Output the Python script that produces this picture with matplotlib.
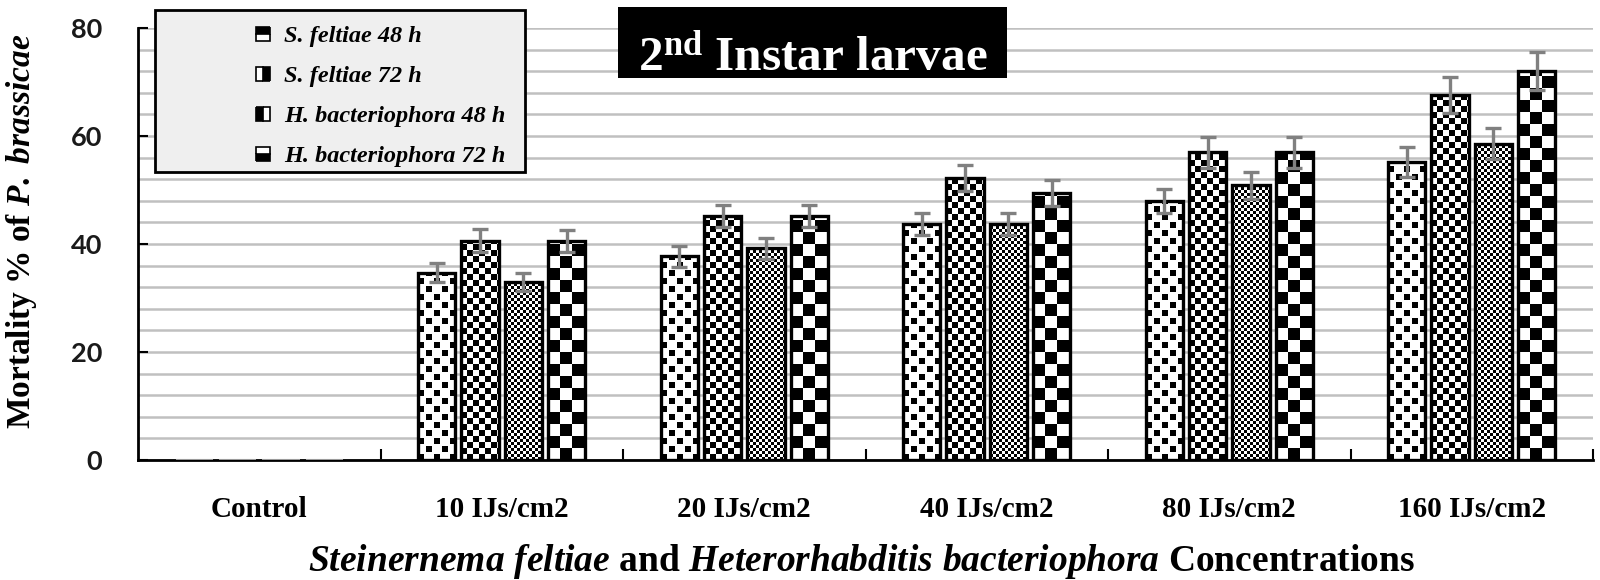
import numpy as np
import matplotlib
matplotlib.use('Agg')
import matplotlib.pyplot as plt
from matplotlib.lines import Line2D
from matplotlib.patches import Rectangle

plt.rcParams['mathtext.fontset'] = 'custom'
plt.rcParams['mathtext.rm'] = 'Liberation Serif:bold'
plt.rcParams['mathtext.bf'] = 'Liberation Serif:bold'
plt.rcParams['mathtext.it'] = 'Liberation Serif:bold:italic'

# data
categories = ['Control', '10 IJs/cm2', '20 IJs/cm2', '40 IJs/cm2', '80 IJs/cm2', '160 IJs/cm2']
series_names = ['S. feltiae 48 h', 'S. feltiae 72 h', 'H. bacteriophora 48 h', 'H. bacteriophora 72 h']
sf48 = [0, 34.7, 37.7, 43.7, 48.0, 55.2]
sf48_err = [0, 1.8, 1.9, 2.0, 2.2, 2.7]
sf72 = [0, 40.6, 45.2, 52.3, 57.0, 67.6]
sf72_err = [0, 2.1, 2.0, 2.4, 2.9, 3.3]
hb48 = [0, 33.0, 39.2, 43.7, 50.9, 58.6]
hb48_err = [0, 1.7, 1.9, 2.0, 2.5, 2.8]
hb72 = [0, 40.6, 45.2, 49.4, 57.0, 72.1]
hb72_err = [0, 2.0, 2.0, 2.4, 2.9, 3.5]
yticks = [0, 20, 40, 60, 80]

values = [sf48, sf72, hb48, hb72]
errors = [sf48_err, sf72_err, hb48_err, hb72_err]
patterns = ['dots', 'check6', 'check3', 'check12']


def make_pattern(kind, nx, ny):
    j, i = np.meshgrid(np.arange(nx), np.arange(ny))
    if kind == 'dots':
        a = (i % 16 < 6) & (j % 16 < 6)
        b = ((i + 8) % 16 < 6) & ((j + 8) % 16 < 6)
        return (a | b).astype(float)
    cell = int(kind[5:])
    return (((i // cell) + (j // cell)) % 2).astype(float)


fig = plt.figure(figsize=(16, 5.8), dpi=100)
ax = fig.add_axes([138 / 1600, 1 - 460 / 580, 1455 / 1600, 432 / 580])

x = np.arange(len(categories))
slot = 0.179
width = 0.153
ax.set_xlim(-0.5, len(categories) - 0.5)
ax.set_ylim(0, 80)

# pixels per data unit, to size the fill patterns
p0 = ax.transData.transform((0, 0))
p1 = ax.transData.transform((1, 1))
px_x, px_y = p1[0] - p0[0], p1[1] - p0[1]

for k in range(4):
    pos = x + (k - 1.5) * slot
    bars = ax.bar(pos, values[k], width=width, facecolor='none', edgecolor='black',
                  linewidth=2.4, zorder=3)
    for b in bars:
        h = b.get_height()
        if h <= 0:
            b.set_edgecolor('#9a9a9a')
            b.set_linewidth(1.5)
            continue
        nx = int(np.ceil(width * px_x))
        ny = int(np.ceil(h * px_y))
        img = make_pattern(patterns[k], nx, ny)
        im = ax.imshow(img, cmap='gray_r', vmin=0, vmax=1, origin='lower',
                       interpolation='nearest', aspect='auto', zorder=2.5,
                       extent=[b.get_x(), b.get_x() + width, 0, h])
        im.set_clip_path(b)
    nonzero = [i for i in range(len(categories)) if values[k][i] > 0]
    ax.errorbar(pos[nonzero], np.array(values[k])[nonzero], yerr=np.array(errors[k])[nonzero],
                fmt='none', ecolor='#808080', elinewidth=2.4, capsize=6, capthick=2.4, zorder=4)

ax.set_xlim(-0.5, len(categories) - 0.5)
ax.set_ylim(0, 80)

# grid
ax.set_yticks(yticks)
ax.set_yticks(np.arange(4, 81, 4), minor=True)
ax.grid(True, which='both', axis='y', color='#c0c0c0', linewidth=1.8, zorder=0)
ax.set_axisbelow(True)
ax.tick_params(axis='y', which='major', direction='in', length=7, width=1.5, pad=26)
ax.tick_params(axis='y', which='minor', length=0)
for lab in ax.get_yticklabels():
    lab.set_fontfamily('Lato')
    lab.set_fontweight('bold')
    lab.set_fontsize(19.5)
    lab.set_color('#1a1a1a')

ax.set_xticks(x)
ax.set_xticklabels(categories, fontfamily='Liberation Serif', fontweight='bold', fontsize=21)
ax.set_xticks(np.arange(0.5, len(categories), 1), minor=True)
ax.tick_params(axis='x', which='major', length=0, pad=26)
ax.tick_params(axis='x', which='minor', direction='in', length=8, width=1.5)

for s in ['top', 'right']:
    ax.spines[s].set_visible(False)
for s in ['left', 'bottom']:
    ax.spines[s].set_linewidth(2)

ax.set_ylabel(r'Mortality % of $\mathit{P.\ brassicae}$', fontfamily='Liberation Serif',
              fontweight='bold', fontsize=24, va='center')
ax.yaxis.set_label_coords(-0.080, 0.53)
ax.set_xlabel(r'$\mathit{Steinernema\ feltiae}$ and $\mathit{Heterorhabditis\ bacteriophora}$ Concentrations',
              fontfamily='Liberation Serif', fontweight='bold', fontsize=27, va='center')
ax.xaxis.set_label_coords(0.497, -0.235)

# legend box
fig.add_artist(Rectangle((155 / 1600, 1 - 172 / 580), 370 / 1600, 162 / 580,
                         transform=fig.transFigure, facecolor='#efefef',
                         edgecolor='black', linewidth=2, zorder=1))
fills = ['top', 'right', 'left', 'bottom']
handles = [Line2D([], [], linestyle='none', marker='s', markersize=10, markerfacecolor='black',
                  markerfacecoloralt='white', markeredgecolor='black', markeredgewidth=1.2,
                  fillstyle=f) for f in fills]
fig.legend(handles, series_names, loc='upper left', bbox_to_anchor=(234 / 1600, 1 - 8 / 580),
           frameon=False, prop={'family': 'Liberation Serif', 'style': 'italic',
                                'weight': 'bold', 'size': 17.5},
           handlelength=1.0, handletextpad=0.35, labelspacing=0.74, borderpad=0.2)

# title box
fig.add_artist(Rectangle((618 / 1600, 1 - 78 / 580), 389 / 1600, 71 / 580,
                         transform=fig.transFigure, facecolor='black', zorder=1))
fig.text(813 / 1600, 1 - 71 / 580, r'2$^{\mathrm{nd}}$ Instar larvae', color='white',
         fontfamily='Liberation Serif', fontweight='bold', fontsize=35.5,
         ha='center', va='baseline', zorder=2)

fig.savefig('out.png', dpi=100)
